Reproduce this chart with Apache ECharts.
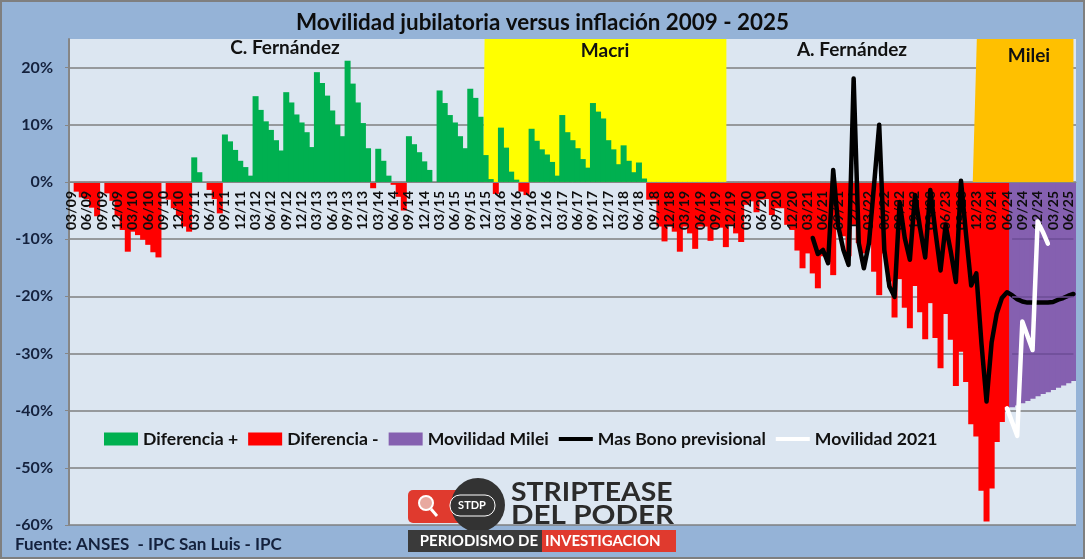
<!DOCTYPE html>
<html lang="es">
<head>
<meta charset="UTF-8">
<title>Movilidad jubilatoria versus inflación 2009 - 2025</title>
<script src="https://cdn.jsdelivr.net/npm/echarts@6/dist/echarts.min.js"></script>
<style>
  html, body { margin: 0; padding: 0; background: #95b3d7; }
  #chart { width: 1085px; height: 559px; }
</style>
</head>
<body>
<div id="chart"></div>
<script>
// monthly difference from 03/09 to 06/24
const diferencia = [
  0, -1.7, -2.7, -3, -4.5, -6, 0, -2, -3.3, -6, -8.4, -12.2,
  -8.7, -9.3, -10.1, -11, -12.3, -13.2, 0, -3.1, -4.6, -6, -7.8, -8.7,
  4.3, 1.7, 0, -1.4, -3, -5.5, 8.3, 7.1, 5.6, 3.7, 2.6, 1.1,
  15, 12.6, 10.6, 9.1, 7.3, 5.5, 15.7, 13.9, 11.8, 10.4, 8.7, 6.1,
  19.2, 17.3, 15.1, 12.5, 10, 8, 21.2, 17.2, 13.9, 10.3, 5.9, -1.1,
  5.8, 3.7, 1.1, -0.5, -2.6, -5, 8, 6.6, 5.2, 3.6, 2.1, 0,
  16, 13.8, 11.7, 10.4, 8, 5.9, 16.3, 14.7, 11.4, 4.7, 0.5, -2.1,
  9.5, 6, 1.8, 0.4, -1.7, -2.3, 9.3, 7.2, 5.7, 4.8, 3.5, 1.1,
  11.7, 8.7, 7.3, 5.9, 4, 2.5, 13.8, 12.3, 11.1, 7.3, 5.7, 3.1,
  6.4, 3.7, 1.7, 3.4, 0.6, -3.1, -3.1, -7.8, -10.4, -7.8, -8.7, -12.2,
  -7.8, -9, -11.7, -7.8, -7.8, -10.3, -8, -8, -11.4, -7.5, -9, -10.5,
  -4, -3.4, -5.3, -3.1, -3, -5.8, -4.6, -4.6, -7.5, -8.4, -12, -15.1,
  -12.5, -16, -18.6, -13, -14, -16.3, -7, -9.5, -13, -7.5, -10.7, -12.5,
  -11, -15.7, -19.8, -12.5, -17.4, -23.7, -17, -22, -25.6, -18.2, -22.8, -27.5,
  -21.2, -27.3, -32.6, -23.1, -27.6, -35.7, -29.7, -35, -42.4, -44.5, -54, -59.4,
  -53.6, -45.5, -42, -39.4
];
// 07/24 to 07/25
const movilidadMilei = [-39.4, -39.1, -38.7, -38.3, -37.9, -37.5, -37.1, -36.8, -36.4, -36, -35.6, -35.2, -34.8];
// starts at 04/21 (index 145)
const masBono = [
  -9.8, -12.6, -11.9, -14.2, 2.1, -7.8, -11.9, -14.5, 18.1, -10.7, -15.1, -10.7, -0.5, 10,
  -11.9, -18.3, -20.1, -3.5, -9.8, -13.6, -2.3, -8.1, -13.2, -1.4, -8.7, -15.5, -7.5, -12.2,
  -17.5, 0.2, -9.3, -18.1, -16, -28.2, -38.4, -28, -23, -20.3, -19.3, -19.8, -20.5, -20.9,
  -21.1, -21.1, -21.1, -21.1, -21.1, -21, -20.6, -20.3, -19.9, -19.6
];
// starts at 06/24 (index 183)
const movilidad2021 = [-39.6, -42, -44.4, -24.4, -26.9, -29.4, -6.9, -8.7, -10.8];
const bonoStart = 145;
const movilidad2021Start = 183;
const mileiStart = 184;
const monthCount = 197;

// grid lines that show through the purple area
const mileiGridLines = [-10, -20, -30];

// government periods in month units, [start at top, start at zero line, end]
const macriBand = [81.3, 81, 128.6];
const mileiBand = [177.6, 176.8, 196.5];

const months = [];
for (let i = 0; i < monthCount; i++) {
  const m = (i + 2) % 12 + 1;
  const y = 9 + Math.floor((i + 2) / 12);
  months.push(String(m).padStart(2, '0') + '/' + String(y).padStart(2, '0'));
}

function padded(values, start) {
  const out = new Array(monthCount).fill(null);
  values.forEach((v, i) => { out[start + i] = v; });
  return out;
}

const font = 'Lato';
const ink = '#14213d';
const lineIcon = 'path://M0,0H34V4H0Z';
const barPx = 6;
const chart = echarts.init(document.getElementById('chart'));

function bandItem(params, api) {
  const a = api.coord([api.value(0), 25]);
  const b = api.coord([api.value(2), 25]);
  const c = api.coord([api.value(2), 0]);
  const d = api.coord([api.value(1), 0]);
  return {
    type: 'polygon',
    shape: { points: [a, b, c, d] },
    style: { fill: api.value(3) === 0 ? '#ffff00' : '#ffc000' }
  };
}

function label(text, x, y) {
  return {
    type: 'text', x: x, y: y, z: 20,
    style: { text: text, fill: '#111', font: 'bold 19px ' + font, textAlign: 'center', textVerticalAlign: 'middle' }
  };
}

chart.setOption({
  animation: false,
  backgroundColor: '#95b3d7',
  textStyle: { fontFamily: font },
  title: {
    text: 'Movilidad jubilatoria versus inflación 2009 - 2025',
    left: 'center', top: 7,
    textStyle: { fontFamily: font, fontSize: 22.4, fontWeight: 'bold', color: '#0d0d0d' }
  },
  grid: { left: 69, right: 9, top: 39, bottom: 34, show: true, backgroundColor: '#dce6f1', borderWidth: 0, outerBoundsMode: 'none' },
  legend: {
    left: 99, top: 425, itemWidth: 34, itemHeight: 13, itemGap: 10,
    textStyle: { fontFamily: font, fontSize: 17.6, fontWeight: 'bold', color: '#111' },
    data: [
      { name: 'Diferencia +', icon: 'rect' },
      { name: 'Diferencia -', icon: 'rect' },
      { name: 'Movilidad Milei', icon: 'rect' },
      { name: 'Mas Bono previsional', icon: lineIcon },
      { name: 'Movilidad 2021', icon: lineIcon }
    ]
  },
  xAxis: [{
    type: 'category', data: months, z: 3,
    axisLine: { onZero: true, onZeroAxisIndex: 0, lineStyle: { color: '#868686', width: 1 } },
    axisTick: { interval: 2, length: 4, lineStyle: { color: '#a6a6a6' } },
    // labels stay at the grid edge when the axis is on zero, so pull them back up
    axisLabel: { interval: 2, rotate: 90, margin: -334, color: '#0d0d0d', fontSize: 14, fontWeight: 'bold', fontFamily: font },
    splitLine: { show: false }
  }, {
    type: 'value', min: 0, max: monthCount, show: false, axisLine: { onZero: false }
  }],
  yAxis: {
    type: 'value', min: -60, max: 25, interval: 10,
    axisLine: { show: true, onZero: false, lineStyle: { color: '#868686', width: 2 } },
    axisTick: { show: true, length: 4, lineStyle: { color: '#868686' } },
    axisLabel: {
      margin: 16, color: ink, fontSize: 16, fontWeight: 'bold', fontFamily: font, showMaxLabel: false,
      formatter: v => v + '%'
    },
    splitLine: { showMaxLine: false, lineStyle: { color: '#7f7f7f', width: 1.5 } }
  },
  series: [
    {
      type: 'custom', xAxisIndex: 1, z: 1, silent: true, renderItem: bandItem,
      encode: { x: [0, 1, 2], y: [] },
      data: [[macriBand[0], macriBand[1], macriBand[2], 0], [mileiBand[0], mileiBand[1], mileiBand[2], 1]]
    },
    {
      name: 'Diferencia +', type: 'bar', z: 2, barWidth: barPx, barGap: '-100%',
      itemStyle: { color: '#00b050' },
      data: padded(diferencia.map(v => v > 0 ? v : null), 0)
    },
    {
      name: 'Diferencia -', type: 'bar', z: 2, barWidth: barPx, barGap: '-100%',
      itemStyle: { color: '#ff0000' },
      data: padded(diferencia.map(v => v < 0 ? v : null), 0)
    },
    {
      name: 'Movilidad Milei', type: 'bar', z: 2, barWidth: barPx, barGap: '-100%',
      itemStyle: { color: '#8560b0' },
      data: padded(movilidadMilei, mileiStart),
      markLine: {
        silent: true, symbol: 'none', label: { show: false },
        lineStyle: { color: '#6d4c96', type: 'solid', width: 1.5 },
        data: mileiGridLines.map(v => [{ xAxis: mileiStart, yAxis: v }, { xAxis: monthCount - 1, yAxis: v }])
      }
    },
    {
      name: 'Mas Bono previsional', type: 'line', z: 4, symbol: 'none', connectNulls: false,
      lineStyle: { color: '#000', width: 4.5, cap: 'round', join: 'round' },
      itemStyle: { color: '#000' },
      data: padded(masBono, bonoStart)
    },
    {
      name: 'Movilidad 2021', type: 'line', z: 5, symbol: 'none',
      lineStyle: { color: '#fff', width: 4.5, cap: 'round', join: 'round' },
      itemStyle: { color: '#fff' },
      data: padded(movilidad2021, movilidad2021Start)
    }
  ],
  graphic: [
    // outer frame
    { type: 'rect', z: 30, silent: true, shape: { x: 1, y: 1, width: 1083, height: 557 }, style: { fill: 'none', stroke: '#7f7f7f', lineWidth: 2 } },
    label('C. Fernández', 285, 48),
    label('Macri', 605, 51),
    label('A. Fernández', 852, 50),
    label('Milei', 1029, 56),
    {
      type: 'text', x: 15, y: 545, z: 20,
      style: { text: 'Fuente: ANSES  - IPC San Luis - IPC', fill: ink, font: 'bold 17px ' + font, textVerticalAlign: 'middle' }
    },
    // logo
    { type: 'rect', z: 20, shape: { x: 408, y: 490, width: 70, height: 33, r: 5 }, style: { fill: '#e03a2e' } },
    { type: 'circle', z: 20, shape: { cx: 478, cy: 505, r: 27 }, style: { fill: '#333' } },
    { type: 'rect', z: 21, shape: { x: 450, y: 495, width: 45, height: 21, r: 10 }, style: { fill: '#333', stroke: '#fff', lineWidth: 1 } },
    { type: 'circle', z: 21, shape: { cx: 426, cy: 503, r: 7 }, style: { fill: '#e8a9a0', stroke: '#fff', lineWidth: 2 } },
    { type: 'line', z: 21, shape: { x1: 431, y1: 509, x2: 437, y2: 516 }, style: { stroke: '#fff', lineWidth: 3 } },
    {
      type: 'text', x: 472, y: 505.5, z: 22,
      style: { text: 'STDP', fill: '#fff', font: 'bold 11px ' + font, textAlign: 'center', textVerticalAlign: 'middle' }
    },
    {
      type: 'text', x: 511, y: 493, z: 22, scaleX: 1.09,
      style: { text: 'STRIPTEASE', fill: '#2b2b2b', font: 'bold 26px ' + font, textVerticalAlign: 'middle' }
    },
    {
      type: 'text', x: 511, y: 516, z: 22, scaleX: 1.14,
      style: { text: 'DEL PODER', fill: '#2b2b2b', font: 'bold 26px ' + font, textVerticalAlign: 'middle' }
    },
    { type: 'rect', z: 20, shape: { x: 408, y: 530, width: 134, height: 22 }, style: { fill: '#3a3a3a' } },
    { type: 'rect', z: 20, shape: { x: 542, y: 530, width: 134, height: 22 }, style: { fill: '#e03a2e' } },
    {
      type: 'text', x: 538, y: 541, z: 22,
      style: { text: 'PERIODISMO DE', fill: '#fff', font: 'bold 15px ' + font, textAlign: 'right', textVerticalAlign: 'middle' }
    },
    {
      type: 'text', x: 545, y: 541, z: 22,
      style: { text: 'INVESTIGACION', fill: '#fff', font: 'bold 15px ' + font, textVerticalAlign: 'middle' }
    }
  ]
});
</script>
</body>
</html>
